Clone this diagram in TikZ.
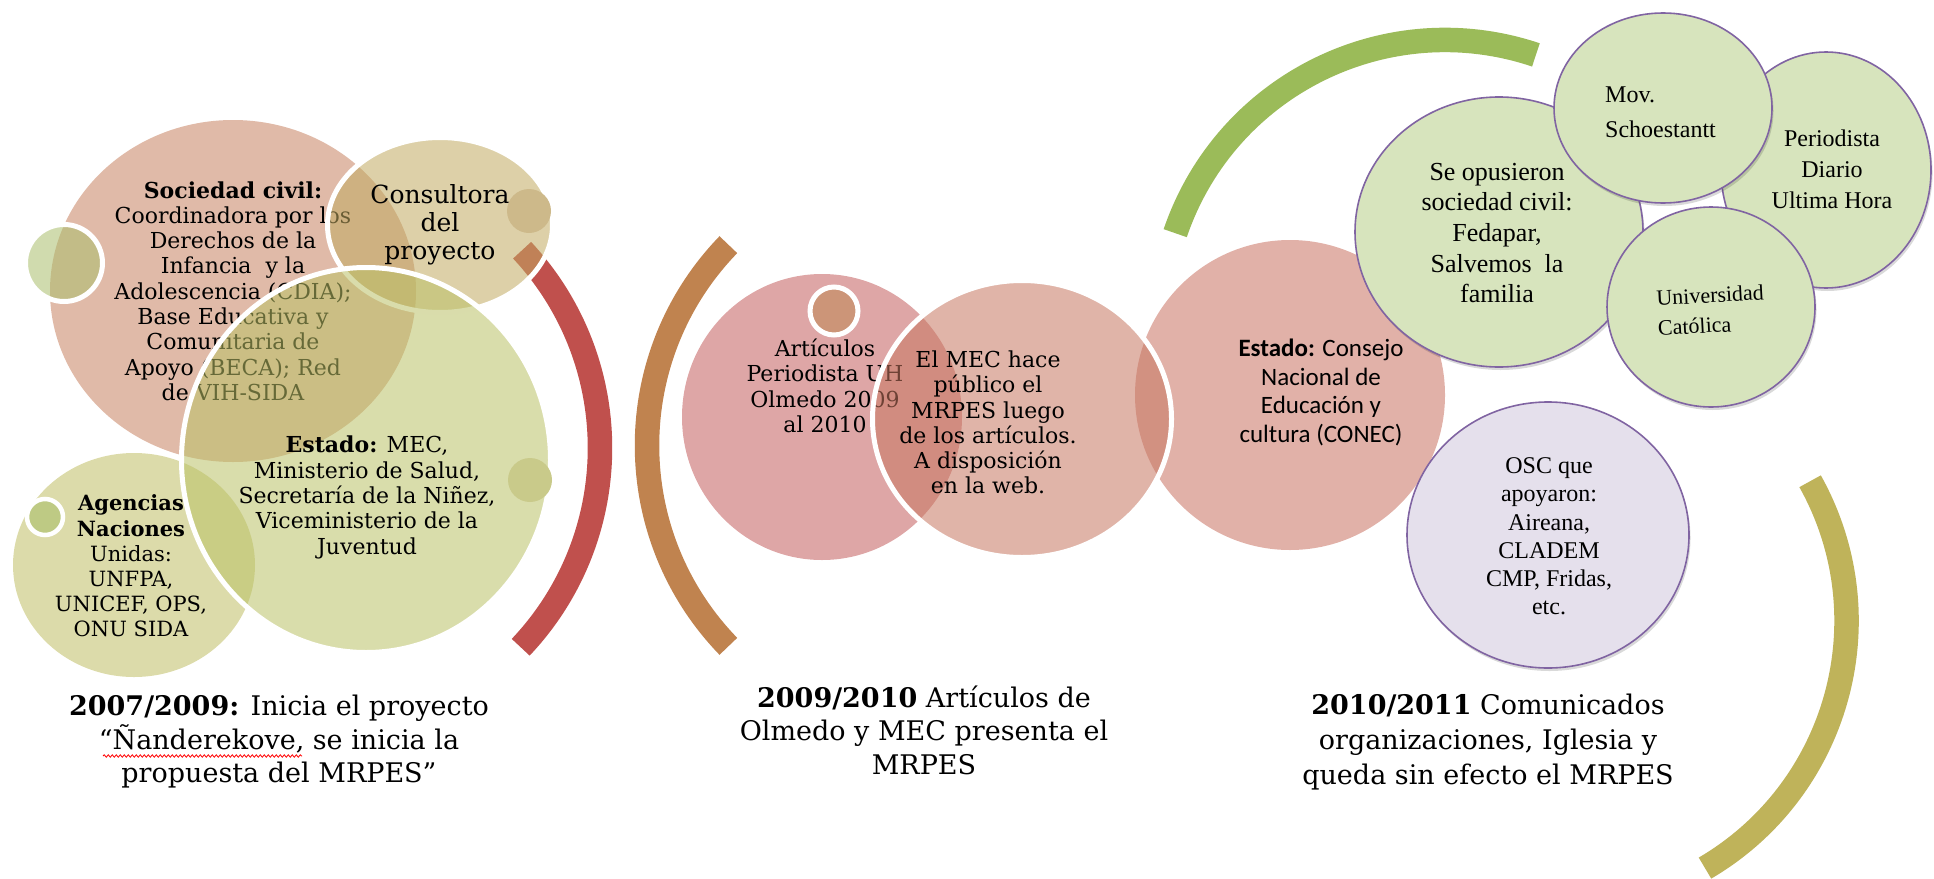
\documentclass[tikz,border=0pt]{standalone}
\usepackage{fontspec}
\setmainfont{DejaVu Serif}
\newfontfamily\timesfont{Liberation Serif}
\newfontfamily\calfont{Carlito}
\usetikzlibrary{decorations.pathmorphing}
\definecolor{fSoc}{RGB}{199,130,97}
\definecolor{fGreenS}{RGB}{170,190,108}
\definecolor{fCons}{RGB}{193,170,97}
\definecolor{fEst}{RGB}{186,193,102}
\definecolor{fAg}{RGB}{192,190,100}
\definecolor{fArt}{RGB}{195,93,93}
\definecolor{fMec}{RGB}{199,119,97}
\definecolor{fConec}{RGB}{201,113,97}
\definecolor{dotCons}{RGB}{205,185,138}
\definecolor{dotEst}{RGB}{201,202,138}
\definecolor{dotAg}{RGB}{190,202,132}
\definecolor{dotArt}{RGB}{204,149,120}
\definecolor{arcRed}{RGB}{192,80,77}
\definecolor{arcBrown}{RGB}{192,131,79}
\definecolor{arcGreen}{RGB}{155,187,89}
\definecolor{arcOlive}{RGB}{191,179,90}
\definecolor{ovGreen}{RGB}{215,228,189}
\definecolor{ovLav}{RGB}{229,224,236}
\definecolor{ovLine}{RGB}{128,100,162}
\tikzset{
  bubble/.style={fill=#1, fill opacity=0.55},
  rimmed/.style={draw=white, draw opacity=1, line width=5pt},
  band/.style={line width=24.5pt, draw=#1},
  oval/.style={fill=#1, draw=ovLine, line width=1.6pt,
    preaction={fill=black, fill opacity=0.15, transform canvas={xshift=1.5pt, yshift=-3pt}}},
  sertext/.style={align=center, text=black, inner sep=0pt, font=\fontsize{22}{25.3}\selectfont},
  bigtext/.style={align=center, text=black, inner sep=0pt, font=\fontsize{27}{33.5}\selectfont},
  romtext/.style={align=center, text=black, inner sep=0pt, font=\timesfont\fontsize{24}{29}\selectfont},
}
\begin{document}
\begin{tikzpicture}[x=1pt,y=-1pt]
\useasboundingbox (0,0) rectangle (1934,878);
% timeline bands
\draw[band=arcRed] (310,448) ++(-43:290) arc[start angle=-43, end angle=43.4, radius=290];
\draw[band=arcBrown] (935.6,445.5) ++(135.9:288.6) arc[start angle=135.9, end angle=224.1, radius=288.6];
\draw[band=arcGreen] (1445,325) ++(198.8:285) arc[start angle=198.8, end angle=288.6, radius=285];
\draw[band=arcOlive] (1560,621) ++(-29.2:286.5) arc[start angle=-29.2, end angle=59.6, radius=286.5];

% ---- first period
\path[bubble=fSoc] (233,291) ellipse [x radius=183, y radius=171];
\node[sertext] (tSoc) at (233,291) {\textbf{Sociedad civil:}\\Coordinadora por los\\Derechos de la\\Infancia\ \ y la\\Adolescencia (CDIA);\\Base Educativa y\\Comunitaria de\\Apoyo (BECA); Red\\de VIH-SIDA};
\path[bubble=fGreenS, rimmed] (64,263) circle [radius=38.5];
\path[bubble=fCons, rimmed] (440,225) ellipse [x radius=112.5, y radius=87.5];
\node[sertext, font=\fontsize{25}{28}\selectfont] (tCons) at (440,225) {Consultora\\del\\proyecto};
\fill[dotCons] (529,211) circle [radius=22];
\path[bubble=fAg] (134,565) ellipse [x radius=121, y radius=112];
\node[sertext, font=\fontsize{21}{25.2}\selectfont] (tAg) at (131,566) {\textbf{Agencias}\\\textbf{Naciones}\\Unidas:\\UNFPA,\\UNICEF, OPS,\\ONU SIDA};
\path[bubble=fEst, rimmed] (366,460) ellipse [x radius=184.5, y radius=192.5];
\node[sertext] (tEst) at (367,497.5) {\textbf{Estado:} MEC,\\Ministerio de Salud,\\Secretaría de la Niñez,\\Viceministerio de la\\Juventud};
\fill[dotEst] (530,480) circle [radius=22];
\filldraw[fill=dotAg, draw=white, line width=4.5pt] (45,517) circle [radius=18];

% ---- second period
\path[bubble=fArt] (822,417) ellipse [x radius=140, y radius=143];
\node[sertext] (tArt) at (825,386) {Artículos\\Periodista UH\\Olmedo 2009\\al 2010};
\filldraw[fill=dotArt, draw=white, line width=5pt] (834,311) circle [radius=24];
\path[bubble=fConec] (1290,395) ellipse [x radius=155, y radius=155];
\node[align=center, inner sep=0pt, font=\calfont\fontsize{25}{28.5}\selectfont] (tConec) at (1321,392.5) {\textbf{Estado:} Consejo\\Nacional de\\Educación y\\cultura (CONEC)};
\path[bubble=fMec, rimmed] (1022,419) ellipse [x radius=149.5, y radius=138.5];
\node[sertext] (tMec) at (988,422.5) {El MEC hace\\público el\\MRPES luego\\de los artículos.\\A disposición\\en la web.};

% ---- third period
\path[oval=ovGreen] (1826,170) ellipse [x radius=105, y radius=118];
\node[romtext, font=\timesfont\fontsize{24}{31}\selectfont] (tPer) at (1832,169) {Periodista\\Diario\\Ultima Hora};
\path[oval=ovGreen] (1499,232) ellipse [x radius=144, y radius=135];
\node[romtext, font=\timesfont\fontsize{26}{30.7}\selectfont] (tOpu) at (1497,233) {Se opusieron\\sociedad civil:\\Fedapar,\\Salvemos\ \ la\\familia};
\path[oval=ovGreen] (1663,108) ellipse [x radius=109, y radius=95];
\node[romtext, align=left, anchor=west, font=\timesfont\fontsize{24}{35}\selectfont] (tMov) at (1605,112.5) {Mov.\\Schoestantt};
\path[oval=ovGreen] (1711,307) ellipse [x radius=104, y radius=100];
\node[romtext, align=left, anchor=west, rotate=3, font=\timesfont\fontsize{22}{30}\selectfont] (tUni) at (1657,313) {Universidad\\Católica};
\path[oval=ovLav] (1548,535) ellipse [x radius=141, y radius=133];
\node[romtext, font=\timesfont\fontsize{24}{28.2}\selectfont] (tOsc) at (1549,536.5) {OSC que\\apoyaron:\\Aireana,\\CLADEM\\CMP, Fridas,\\etc.};

% ---- period captions
\node[bigtext] (cap1) at (279,742) {\textbf{2007/2009:} Inicia el proyecto\\“Ñanderekove, se inicia la\\propuesta del MRPES”};
\node[bigtext] (cap2) at (924,730) {\textbf{2009/2010} Artículos de\\Olmedo y MEC presenta el\\MRPES};
\node[bigtext, font=\fontsize{27}{35}\selectfont] (cap3) at (1488,742) {\textbf{2010/2011} Comunicados\\organizaciones, Iglesia y\\queda sin efecto el MRPES};
\coordinate (sq1) at (103,756);
\coordinate (sq2) at (302,756);
\draw[red, line width=0.8pt, decorate, decoration={snake, amplitude=1.2pt, segment length=4pt}] (sq1) -- (sq2);
\end{tikzpicture}
\end{document}
